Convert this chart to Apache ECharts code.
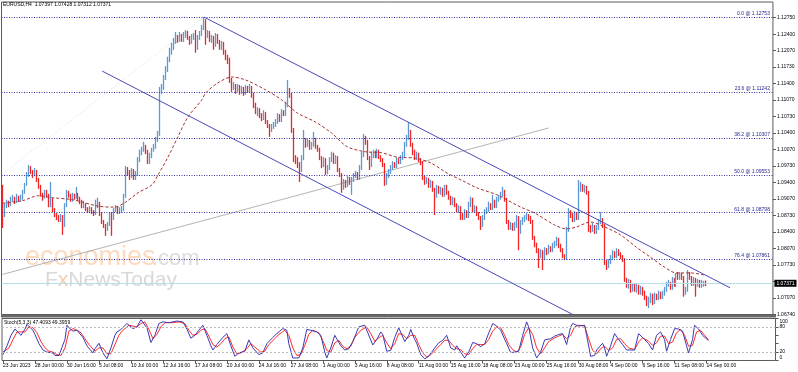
<!DOCTYPE html>
<html><head><meta charset="utf-8">
<script src="https://cdn.jsdelivr.net/npm/echarts@6/dist/echarts.min.js"></script>
<style>html,body{margin:0;padding:0;background:#fff}#c{width:798px;height:372px}</style>
</head><body><div id="c"></div>
<script>
const symbolTitle = 'EURUSD,H4  1.07397 1.07428 1.07312 1.07371';
const stochTitle = 'Stoch(5,3,3) 47.4093 49.3959';
const xLabels = ['23 Jun 2023','28 Jun 00:00','30 Jun 16:00','5 Jul 08:00','10 Jul 00:00','12 Jul 16:00','17 Jul 08:00','20 Jul 00:00','24 Jul 16:00','27 Jul 08:00','1 Aug 00:00','3 Aug 16:00','8 Aug 08:00','11 Aug 00:00','15 Aug 16:00','18 Aug 08:00','23 Aug 00:00','25 Aug 16:00','30 Aug 08:00','4 Sep 00:00','6 Sep 16:00','11 Sep 08:00','14 Sep 00:00'];
const yTickLabels = ['1.06740','1.07070','','1.07730','1.08070','1.08400','1.08730','1.09070','1.09400','1.09730','1.10070','1.10400','1.10730','1.11070','1.11400','1.11730','1.12070','1.12400','1.12750'];
const firstOpen = 1.0916;
const closes = [
1.0875,1.0893,1.0899,1.0895,1.0906,1.0910,1.0902,1.0912,1.0906,1.0908,
1.0920,1.0936,1.0954,1.0970,1.0962,1.0956,1.0964,1.0946,1.0932,1.0916,
1.0910,1.0922,1.0914,1.0895,1.0906,1.0885,1.0875,1.0869,1.0865,1.0871,
1.0855,1.0895,1.0920,1.0914,1.0906,1.0916,1.0910,1.0918,1.0908,1.0902,
1.0893,1.0897,1.0887,1.0883,1.0889,1.0881,1.0877,1.0893,1.0899,1.0877,
1.0861,1.0853,1.0847,1.0857,1.0877,1.0869,1.0885,1.0889,1.0881,1.0885,
1.0887,1.0914,1.0970,1.0962,1.0954,1.0966,1.0950,1.0958,1.0986,1.1001,
1.1007,1.1015,1.1003,1.0982,1.0994,1.1007,1.1013,1.1027,1.1039,1.1128,
1.1132,1.1152,1.1168,1.1188,1.1205,1.1213,1.1225,1.1233,1.1229,1.1237,
1.1229,1.1239,1.1243,1.1233,1.1225,1.1235,1.1237,1.1213,1.1233,1.1241,
1.1253,1.1269,1.1239,1.1243,1.1229,1.1233,1.1219,1.1237,1.1225,1.1213,
1.1221,1.1205,1.1193,1.1188,1.1148,1.1132,1.1136,1.1128,1.1134,1.1124,
1.1130,1.1122,1.1132,1.1126,1.1132,1.1118,1.1097,1.1083,1.1087,1.1075,
1.1071,1.1081,1.1063,1.1055,1.1047,1.1053,1.1057,1.1063,1.1073,1.1067,
1.1083,1.1079,1.1097,1.1124,1.1118,1.1047,1.0990,1.0986,1.0976,1.0966,
1.0990,1.1027,1.1017,1.1023,1.1011,1.1017,1.1027,1.1013,1.1007,1.0990,
1.0976,1.0986,1.0962,1.0970,1.0986,1.0996,1.0982,1.0990,1.0966,1.0956,
1.0930,1.0942,1.0936,1.0950,1.0940,1.0946,1.0954,1.0958,1.0950,1.0970,
1.0996,1.1031,1.1023,1.0990,1.0976,1.0996,1.1001,1.0994,1.1003,1.0992,
1.0986,1.0976,1.0940,1.0954,1.0962,1.0970,1.0978,1.0974,1.0986,1.0982,
1.0990,1.0996,1.1017,1.1031,1.1043,1.1017,1.1003,1.0990,1.0996,1.0986,
1.0980,1.0950,1.0942,1.0946,1.0934,1.0940,1.0926,1.0914,1.0930,1.0922,
1.0926,1.0916,1.0932,1.0920,1.0910,1.0899,1.0906,1.0895,1.0885,1.0889,
1.0875,1.0869,1.0881,1.0873,1.0895,1.0906,1.0885,1.0889,1.0877,1.0869,
1.0855,1.0869,1.0881,1.0885,1.0895,1.0889,1.0902,1.0893,1.0906,1.0910,
1.0916,1.0922,1.0906,1.0861,1.0849,1.0855,1.0847,1.0853,1.0869,1.0841,
1.0859,1.0865,1.0869,1.0873,1.0867,1.0861,1.0829,1.0815,1.0804,1.0794,
1.0800,1.0788,1.0804,1.0800,1.0808,1.0804,1.0812,1.0817,1.0825,1.0812,
1.0804,1.0792,1.0788,1.0845,1.0881,1.0875,1.0865,1.0877,1.0869,1.0926,
1.0934,1.0926,1.0930,1.0920,1.0849,1.0845,1.0853,1.0841,1.0849,1.0861,
1.0865,1.0853,1.0780,1.0772,1.0780,1.0788,1.0798,1.0792,1.0802,1.0796,
1.0790,1.0784,1.0744,1.0734,1.0740,1.0724,1.0732,1.0724,1.0730,1.0720,
1.0726,1.0718,1.0707,1.0697,1.0703,1.0712,1.0699,1.0712,1.0707,1.0716,
1.0710,1.0716,1.0724,1.0734,1.0738,1.0728,1.0744,1.0734,1.0752,1.0748,
1.0754,1.0748,1.0720,1.0724,1.0754,1.0748,1.0736,1.0744,1.0734,1.0740,
1.0732,1.0738,1.0740,1.07371];
const highs = [
1.0936,1.0899,1.0906,1.0904,1.0912,1.0916,1.0912,1.0918,1.0914,1.0916,
1.0926,1.0940,1.0962,1.0976,1.0974,1.0966,1.0970,1.0966,1.0950,1.0936,
1.0920,1.0926,1.0926,1.0918,1.0942,1.0910,1.0889,1.0879,1.0875,1.0877,
1.0875,1.0899,1.0926,1.0924,1.0918,1.0920,1.0918,1.0932,1.0920,1.0912,
1.0906,1.0904,1.0899,1.0891,1.0893,1.0891,1.0885,1.0906,1.0910,1.0902,
1.0881,1.0865,1.0857,1.0861,1.0881,1.0881,1.0889,1.0895,1.0893,1.0891,
1.0893,1.0918,1.0974,1.0972,1.0966,1.0970,1.0968,1.0964,1.0992,1.1007,
1.1013,1.1023,1.1017,1.1007,1.1001,1.1011,1.1019,1.1033,1.1045,1.1134,
1.1140,1.1158,1.1176,1.1195,1.1213,1.1223,1.1233,1.1245,1.1239,1.1245,
1.1241,1.1245,1.1249,1.1247,1.1237,1.1241,1.1243,1.1249,1.1239,1.1247,
1.1259,1.12753,1.1271,1.1249,1.1247,1.1239,1.1237,1.1243,1.1241,1.1229,
1.1227,1.1225,1.1209,1.1199,1.1193,1.1152,1.1144,1.1140,1.1140,1.1138,
1.1136,1.1134,1.1138,1.1136,1.1140,1.1136,1.1122,1.1102,1.1093,1.1091,
1.1081,1.1087,1.1083,1.1067,1.1059,1.1059,1.1063,1.1069,1.1081,1.1079,
1.1089,1.1087,1.1104,1.1148,1.1132,1.1122,1.1051,1.0996,1.0992,1.0982,
1.0996,1.1047,1.1031,1.1029,1.1027,1.1023,1.1043,1.1031,1.1017,1.1011,
1.0994,1.0992,1.0990,1.0976,1.0992,1.1003,1.1001,1.0996,1.0994,1.0970,
1.0960,1.0948,1.0946,1.0954,1.0952,1.0952,1.0960,1.0964,1.0962,1.0976,
1.1003,1.1039,1.1035,1.1027,1.0994,1.1003,1.1007,1.1005,1.1009,1.1007,
1.0996,1.0990,1.0980,1.0960,1.0968,1.0976,1.0984,1.0982,1.0992,1.0990,
1.0996,1.1003,1.1023,1.1037,1.1063,1.1047,1.1021,1.1007,1.1003,1.1001,
1.0990,1.0984,1.0954,1.0952,1.0950,1.0946,1.0944,1.0930,1.0936,1.0934,
1.0932,1.0930,1.0936,1.0936,1.0924,1.0914,1.0912,1.0910,1.0899,1.0895,
1.0893,1.0879,1.0887,1.0885,1.0902,1.0912,1.0910,1.0895,1.0893,1.0881,
1.0873,1.0875,1.0887,1.0891,1.0902,1.0899,1.0916,1.0906,1.0912,1.0916,
1.0922,1.0932,1.0926,1.0910,1.0865,1.0861,1.0859,1.0861,1.0875,1.0873,
1.0865,1.0871,1.0875,1.0879,1.0877,1.0873,1.0865,1.0833,1.0819,1.0808,
1.0806,1.0804,1.0810,1.0808,1.0815,1.0812,1.0819,1.0823,1.0831,1.0829,
1.0817,1.0808,1.0796,1.0851,1.0889,1.0885,1.0879,1.0883,1.0881,1.0946,
1.0942,1.0938,1.0936,1.0934,1.0924,1.0855,1.0859,1.0855,1.0855,1.0867,
1.0881,1.0869,1.0857,1.0784,1.0786,1.0794,1.0804,1.0802,1.0808,1.0806,
1.0800,1.0794,1.0788,1.0748,1.0746,1.0744,1.0738,1.0736,1.0736,1.0734,
1.0732,1.0730,1.0722,1.0712,1.0710,1.0718,1.0716,1.0718,1.0716,1.0722,
1.0720,1.0722,1.0730,1.0740,1.0744,1.0740,1.0750,1.0748,1.0758,1.0760,
1.0760,1.0758,1.0752,1.0730,1.0764,1.0760,1.0752,1.0750,1.0748,1.0746,
1.0744,1.0744,1.0742,1.07428];
const lows = [
1.0849,1.0871,1.0889,1.0891,1.0893,1.0902,1.0897,1.0899,1.0902,1.0902,
1.0906,1.0918,1.0934,1.0952,1.0958,1.0950,1.0954,1.0942,1.0928,1.0912,
1.0904,1.0908,1.0910,1.0891,1.0891,1.0881,1.0871,1.0865,1.0861,1.0861,
1.0835,1.0851,1.0891,1.0910,1.0902,1.0902,1.0906,1.0908,1.0904,1.0897,
1.0889,1.0889,1.0883,1.0879,1.0879,1.0877,1.0873,1.0875,1.0889,1.0873,
1.0857,1.0849,1.0833,1.0843,1.0853,1.0833,1.0865,1.0881,1.0877,1.0877,
1.0879,1.0883,1.0910,1.0954,1.0946,1.0950,1.0946,1.0946,1.0954,1.0982,
1.0996,1.1003,1.0998,1.0978,1.0978,1.0990,1.1003,1.1009,1.1023,1.1035,
1.1120,1.1128,1.1148,1.1164,1.1184,1.1199,1.1209,1.1221,1.1223,1.1225,
1.1225,1.1225,1.1233,1.1229,1.1219,1.1221,1.1229,1.1203,1.1209,1.1229,
1.1237,1.1249,1.1219,1.1233,1.1225,1.1223,1.1209,1.1215,1.1221,1.1209,
1.1209,1.1199,1.1188,1.1180,1.1142,1.1124,1.1128,1.1120,1.1124,1.1118,
1.1120,1.1116,1.1118,1.1122,1.1122,1.1112,1.1091,1.1079,1.1075,1.1071,
1.1065,1.1067,1.1059,1.1051,1.1033,1.1043,1.1049,1.1053,1.1059,1.1063,
1.1063,1.1075,1.1075,1.1093,1.1112,1.1041,1.0982,1.0978,1.0970,1.0942,
1.0962,1.0986,1.1011,1.1013,1.1007,1.1007,1.1013,1.1009,1.1003,1.0986,
1.0970,1.0972,1.0956,1.0958,1.0966,1.0982,1.0978,1.0978,1.0962,1.0952,
1.0920,1.0926,1.0930,1.0932,1.0936,1.0916,1.0942,1.0950,1.0946,1.0946,
1.0966,1.0992,1.1017,1.0986,1.0966,1.0972,1.0990,1.0990,1.0990,1.0988,
1.0982,1.0972,1.0934,1.0936,1.0950,1.0958,1.0966,1.0970,1.0970,1.0978,
1.0978,1.0986,1.0992,1.1013,1.1027,1.1013,1.0996,1.0986,1.0986,1.0982,
1.0976,1.0946,1.0936,1.0938,1.0930,1.0930,1.0922,1.0875,1.0910,1.0918,
1.0916,1.0912,1.0912,1.0916,1.0906,1.0895,1.0895,1.0891,1.0881,1.0879,
1.0865,1.0865,1.0865,1.0869,1.0869,1.0891,1.0881,1.0879,1.0873,1.0865,
1.0845,1.0851,1.0865,1.0877,1.0881,1.0885,1.0885,1.0889,1.0889,1.0902,
1.0906,1.0912,1.0902,1.0857,1.0845,1.0845,1.0843,1.0843,1.0849,1.0804,
1.0837,1.0855,1.0861,1.0865,1.0863,1.0857,1.0825,1.0810,1.0798,1.0768,
1.0788,1.0764,1.0784,1.0794,1.0796,1.0800,1.0800,1.0808,1.0812,1.0808,
1.0800,1.0788,1.0784,1.0784,1.0841,1.0869,1.0861,1.0861,1.0865,1.0865,
1.0922,1.0922,1.0920,1.0916,1.0841,1.0839,1.0841,1.0837,1.0837,1.0845,
1.0857,1.0849,1.0774,1.0764,1.0768,1.0776,1.0784,1.0788,1.0788,1.0792,
1.0786,1.0780,1.0740,1.0728,1.0726,1.0718,1.0720,1.0720,1.0718,1.0714,
1.0714,1.0712,1.0703,1.0691,1.0687,1.0697,1.0693,1.0695,1.0703,1.0703,
1.0705,1.0705,1.0712,1.0720,1.0730,1.0724,1.0724,1.0730,1.0730,1.0744,
1.0744,1.0744,1.0710,1.0714,1.0720,1.0744,1.0732,1.0732,1.0710,1.0730,
1.0728,1.0728,1.0730,1.07312];
const maPoints = [[0,1.0899],[10,1.0904],[18,1.0914],[25,1.0910],[35,1.0906],[48,1.0893],[56,1.0891],[61,1.0899],[68,1.0920],[75,1.0936],[78,1.0956],[83,1.0992],[88,1.1033],[93,1.1073],[100,1.1108],[102,1.1122],[108,1.1142],[115,1.1154],[122,1.1148],[132,1.1128],[140,1.1108],[148,1.1081],[157,1.1063],[165,1.1041],[173,1.1013],[182,1.1003],[190,1.1001],[198,1.0992],[207,1.0990],[215,1.0980],[223,1.0960],[231,1.0944],[238,1.0930],[248,1.0916],[260,1.0891],[267,1.0879],[277,1.0855],[283,1.0847],[288,1.0851],[295,1.0861],[302,1.0851],[310,1.0835],[318,1.0810],[325,1.0790],[332,1.0770],[338,1.0758],[345,1.0758],[352,1.0754]];
const stochMain = [[0,14],[2,35],[4,60],[6,75],[7,72],[9,60],[11,75],[12,86],[13,84],[15,72],[16,62],[18,40],[20,25],[22,20],[23,22],[25,18],[26,12],[27,11],[28,12],[29,14],[31,50],[32,84],[33,78],[35,70],[37,72],[38,70],[40,55],[42,35],[45,18],[46,28],[48,41],[50,18],[52,4],[54,30],[56,60],[57,68],[59,74],[62,88],[63,86],[65,76],[67,80],[69,97],[70,95],[72,78],[74,43],[76,60],[78,88],[80,92],[83,90],[87,94],[90,92],[92,75],[94,53],[96,60],[98,72],[100,84],[102,60],[104,35],[105,25],[107,38],[108,41],[110,55],[112,64],[114,35],[116,10],[118,18],[121,22],[123,49],[125,30],[128,14],[130,18],[132,40],[135,55],[137,64],[140,76],[142,72],[143,40],[145,6],[148,6],[150,30],[152,74],[154,72],[157,68],[159,60],[161,20],[162,6],[164,30],[166,60],[169,35],[171,25],[173,28],[175,45],[178,80],[181,84],[182,82],[185,37],[187,50],[189,68],[190,62],[192,22],[194,24],[196,55],[198,78],[201,45],[203,60],[204,74],[206,50],[207,41],[209,14],[211,4],[213,10],[216,30],[218,42],[220,48],[222,60],[224,30],[226,25],[227,35],[229,20],[231,6],[233,20],[235,43],[237,40],[239,33],[241,40],[243,65],[245,88],[247,82],[249,72],[252,40],[254,19],[256,20],[258,22],[260,60],[262,92],[263,80],[265,30],[267,6],[269,20],[271,49],[274,52],[276,58],[278,62],[280,64],[282,38],[284,80],[285,88],[288,82],[291,84],[292,60],[294,10],[296,12],[297,25],[300,41],[301,30],[302,10],[304,35],[306,64],[308,50],[310,38],[312,25],[316,25],[318,64],[321,50],[323,40],[325,25],[327,60],[329,68],[331,50],[332,22],[334,50],[336,76],[338,75],[340,70],[342,35],[343,18],[345,50],[346,84],[348,75],[350,60],[353,47.4093]];
const stochSignal = [[0,20],[3,30],[5,50],[7,68],[9,68],[11,68],[13,80],[15,78],[17,66],[19,45],[21,30],[23,22],[25,20],[27,14],[29,12],[31,30],[33,70],[35,76],[37,72],[39,66],[41,52],[43,38],[46,22],[48,30],[50,30],[52,16],[54,16],[56,38],[58,60],[60,72],[63,84],[65,82],[67,80],[69,88],[71,92],[73,74],[75,52],[77,62],[79,80],[81,90],[85,90],[88,92],[91,88],[93,72],[95,60],[97,62],[99,72],[101,76],[103,58],[105,38],[107,32],[109,40],[111,52],[113,56],[115,32],[117,16],[119,18],[122,28],[124,40],[126,32],[129,20],[131,22],[133,38],[136,52],[138,62],[141,72],[143,60],[145,30],[147,12],[149,14],[151,36],[153,62],[155,72],[158,66],[160,48],[162,24],[164,20],[166,42],[168,48],[170,34],[172,28],[174,34],[176,55],[179,72],[182,80],[184,64],[186,46],[188,54],[190,60],[192,42],[194,28],[196,40],[198,64],[200,62],[202,52],[204,60],[206,60],[208,38],[210,18],[212,8],[214,14],[217,28],[219,38],[221,48],[223,48],[225,36],[227,28],[229,26],[231,16],[233,14],[235,28],[237,38],[239,38],[241,38],[243,50],[245,70],[247,80],[249,78],[251,60],[253,38],[255,26],[257,20],[259,32],[261,62],[263,78],[265,62],[267,30],[269,16],[271,30],[273,45],[276,54],[278,58],[280,62],[282,52],[284,60],[286,80],[288,84],[291,82],[293,52],[295,24],[297,16],[299,28],[301,34],[303,24],[305,30],[307,50],[309,52],[311,40],[313,30],[316,26],[318,44],[320,54],[323,46],[325,36],[327,42],[329,58],[331,58],[333,40],[335,44],[337,66],[339,74],[341,60],[343,34],[345,36],[347,68],[349,72],[351,60],[353,49.3959]];
const fibPercents = ['0.0','23.6','38.2','50.0','61.8','76.4'];
const fibPrices = [1.12753,1.11242,1.10307,1.09553,1.08798,1.07861];
const lastPrice = 1.07371;
const channelUpper = [[101,1.12753],[365,1.0728]];
const channelLower = [[50,1.1166],[300,1.0645]];
const supportLine = [[0,1.0755],[274,1.1051]];
const fibDiagonal = [[0,1.0958],[101,1.12753]];
const stochLevels = [80,20];
const stochTicks = [0,20,80,100];

// layout constants
const slotCount = 387, labelEvery = 16;
const yMin = 1.0674, yMax = 1.13056, yStep = 0.0033333;
const FONT = 'Liberation Sans, Arial, sans-serif';

const cats = Array.from({length: slotCount}, (_, i) => String(i));
const ohlc = closes.map((c, i) => [i === 0 ? firstOpen : closes[i - 1], c, lows[i], highs[i]]);
const showIdx = (i) => i % labelEvery === 0 && (i / labelEvery) < xLabels.length;

const chart = echarts.init(document.getElementById('c'), null, {renderer: 'canvas'});
const trend = (data, color, type, z) => ({
  type: 'line', xAxisIndex: 0, yAxisIndex: 0, data, symbol: 'none', silent: true, z: z || 3,
  lineStyle: {color, width: 1, type: type || 'solid'}, animation: false
});
chart.setOption({
  animation: false,
  backgroundColor: '#ffffff',
  title: [
    {text: symbolTitle, left: 3, top: 2, padding: 0, textStyle: {fontSize: 5, fontWeight: 'normal', color: '#000', fontFamily: FONT}},
    {text: stochTitle, left: 4, top: 320, padding: 0, textStyle: {fontSize: 5, fontWeight: 'normal', color: '#000', fontFamily: FONT}}
  ],
  grid: [
    {left: 1.5, top: 2, width: 774, height: 312.5, show: true, borderColor: '#5c5c5c', borderWidth: 1},
    {left: 1.5, top: 318.5, width: 774, height: 42, show: true, borderColor: '#5c5c5c', borderWidth: 1}
  ],
  xAxis: [
    {type: 'category', gridIndex: 0, data: cats, boundaryGap: true, show: false},
    {type: 'category', gridIndex: 1, data: cats, boundaryGap: true,
     axisLine: {show: false},
     axisTick: {show: true, length: 3, alignWithLabel: true, interval: (i) => showIdx(i), lineStyle: {color: '#555'}},
     axisLabel: {interval: (i) => showIdx(i), formatter: (v, i) => showIdx(i) ? xLabels[i / labelEvery] : '',
       fontSize: 5, color: '#000', align: 'left', margin: 3, fontFamily: FONT, hideOverlap: false},
     splitLine: {show: false}}
  ],
  yAxis: [
    {type: 'value', gridIndex: 0, position: 'right', min: yMin, max: yMax, interval: yStep,
     axisLine: {show: false}, splitLine: {show: false},
     axisTick: {show: true, length: 3, lineStyle: {color: '#555'}},
     axisLabel: {fontSize: 5, color: '#000', margin: 4, fontFamily: FONT, showMaxLabel: false,
       formatter: (v) => { const k = Math.round((v - yMin) / yStep); return Math.abs(v - (yMin + k * yStep)) < 1e-6 ? (yTickLabels[k] || '') : ''; }}},
    {type: 'value', gridIndex: 1, position: 'right', min: 0, max: 100, interval: 20,
     axisLine: {show: false}, splitLine: {show: false},
     axisTick: {show: true, length: 3, lineStyle: {color: '#555'}},
     axisLabel: {fontSize: 5, color: '#000', margin: 4, fontFamily: FONT,
       formatter: (v) => v === 100 ? '{t|100}' : v === 0 ? '{b|0}' : (stochTicks.indexOf(v) >= 0 ? String(v) : ''),
       rich: {t: {fontSize: 5, padding: [6, 0, 0, 0], fontFamily: FONT}, b: {fontSize: 5, padding: [0, 0, 6, 0], fontFamily: FONT}}}}
  ],
  graphic: [
    {type: 'rect', silent: true, z: 10, shape: {x: 1, y: 315, width: 775, height: 2.5}, style: {fill: '#6a6a6a'}},
    {type: 'text', silent: true, z: 1, left: 25, top: 244, style: {text: 'economies', fontSize: 27, fontFamily: FONT, fill: '#fdd9bf'}},
    {type: 'text', silent: true, z: 1, left: 152, top: 248, style: {text: '.com', fontSize: 22, fontFamily: FONT, fill: '#dcdcdc'}},
    {type: 'text', silent: true, z: 1, left: 45, top: 270, style: {text: '{f|F}{x|x}{n|NewsToday}', fontSize: 21, fontFamily: FONT,
      rich: {f: {fontSize: 21, fill: '#d8d8d8', fontFamily: FONT}, x: {fontSize: 21, fill: '#f4cbad', fontFamily: FONT}, n: {fontSize: 21, fill: '#d8d8d8', fontFamily: FONT}}}}
  ],
  series: [
    trend(fibDiagonal, '#dddddd', [1, 2], 2),
    trend(supportLine, '#b4b4b4', 'solid', 2),
    {
      type: 'candlestick', xAxisIndex: 0, yAxisIndex: 0, data: ohlc, barWidth: 1, z: 4,
      itemStyle: {color: '#5b98d4', color0: '#f22424', borderColor: '#5b98d4', borderColor0: '#f22424', borderWidth: 1.3},
      markLine: {
        silent: true, symbol: ['none', 'none'], animation: false, precision: 5,
        data: fibPrices.map((p, k) => ({
          yAxis: p,
          lineStyle: {color: '#3434a0', width: 1, type: [1, 1.5]},
          label: {show: true, position: 'insideEndTop', distance: [3, 1], formatter: fibPercents[k] + ' @ ' + p.toFixed(5),
            fontSize: 5, color: '#25258f', fontFamily: FONT}
        })).concat([{
          yAxis: lastPrice,
          lineStyle: {color: '#b6dfe8', width: 1, type: 'solid'},
          label: {show: true, position: 'end', distance: 1.5, formatter: lastPrice.toFixed(5), fontSize: 5,
            color: '#fff', backgroundColor: '#000', padding: [1, 2, 1, 2], fontFamily: FONT}
        }])
      }
    },
    Object.assign(trend(maPoints, '#a83232', [3, 2], 5), {smooth: 0.3}),
    trend(channelUpper, '#4a4ab8', 'solid', 6),
    trend(channelLower, '#4a4ab8', 'solid', 6),
    {type: 'line', xAxisIndex: 1, yAxisIndex: 1, data: stochSignal, symbol: 'none', silent: true, z: 3,
     lineStyle: {color: '#ff2a2a', width: 1},
     markLine: {silent: true, symbol: ['none', 'none'], label: {show: false}, animation: false,
       lineStyle: {color: '#bdbdbd', width: 1, type: [2, 2]}, data: stochLevels.map(v => ({yAxis: v}))}},
    {type: 'line', xAxisIndex: 1, yAxisIndex: 1, data: stochMain, symbol: 'none', silent: true, z: 4,
     lineStyle: {color: '#3a3ab4', width: 1}}
  ]
});
</script>
</body></html>
